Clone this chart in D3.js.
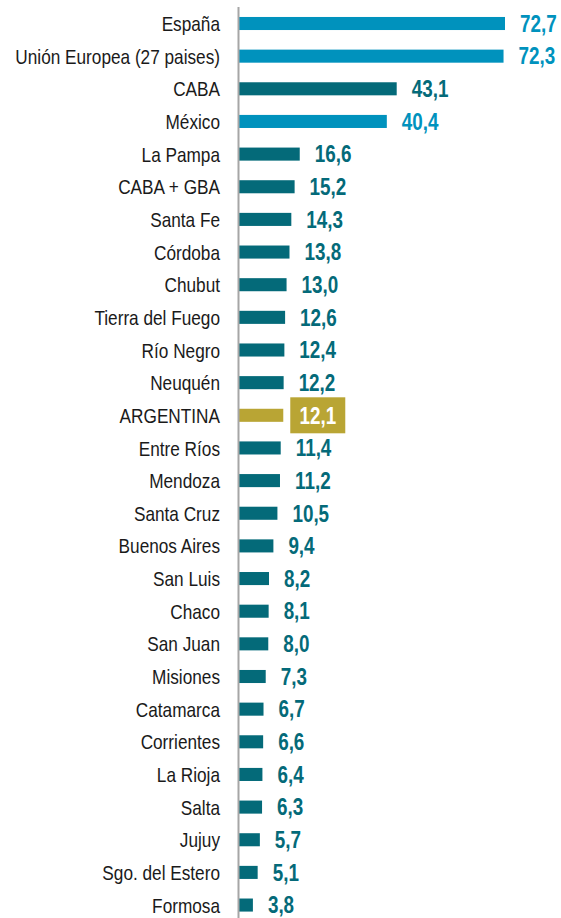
<!DOCTYPE html>
<html>
<head>
<meta charset="utf-8">
<script src="https://cdn.jsdelivr.net/npm/d3@7/dist/d3.min.js"></script>
<style>
  body { margin: 0; background: #fff; }
  .cat { font-family: "Liberation Sans", Arial, sans-serif; font-size: 21px; fill: #1a1a1a; }
  .val { font-family: "Liberation Sans", Arial, sans-serif; font-size: 23px; font-weight: bold; }
</style>
</head>
<body>
<div id="chart"></div>
<script>
const categories = ['España', 'Unión Europea (27 paises)', 'CABA', 'México', 'La Pampa', 'CABA + GBA',
    'Santa Fe', 'Córdoba', 'Chubut', 'Tierra del Fuego', 'Río Negro', 'Neuquén', 'ARGENTINA',
    'Entre Ríos', 'Mendoza', 'Santa Cruz', 'Buenos Aires', 'San Luis', 'Chaco', 'San Juan',
    'Misiones', 'Catamarca', 'Corrientes', 'La Rioja', 'Salta', 'Jujuy', 'Sgo. del Estero', 'Formosa'];
const values = [72.7, 72.3, 43.1, 40.4, 16.6, 15.2, 14.3, 13.8, 13.0, 12.6, 12.4, 12.2, 12.1,
    11.4, 11.2, 10.5, 9.4, 8.2, 8.1, 8.0, 7.3, 6.7, 6.6, 6.4, 6.3, 5.7, 5.1, 3.8];
const intl = ['España', 'Unión Europea (27 paises)', 'México'];
const highlight = 'ARGENTINA';

const width = 561, height = 918;
const x0 = 239;
const step = 32.65;
const squeeze = 0.82; // the source text is horizontally condensed

const colors = { intl: '#0092bd', prov: '#046a79', arg: '#b9a534' };

function groupOf(c) {
    if (c === highlight) return 'arg';
    return intl.indexOf(c) >= 0 ? 'intl' : 'prov';
}

const data = categories.map((c, i) => ({ key: c, value: values[i], group: groupOf(c) }));

const svg = d3.select('#chart').append('svg')
    .attr('width', width)
    .attr('height', height);

const xScale = d3.scaleLinear()
    .domain([0, 72.7])
    .range([x0, 505]);

const yScale = d3.scaleBand()
    .domain(categories)
    .range([23.5 - step / 2, 23.5 - step / 2 + step * categories.length])
    .paddingInner(0.6)
    .paddingOuter(0.3);

const mid = k => yScale(k) + yScale.bandwidth() / 2;

// category labels
svg.append('g').selectAll('text')
    .data(data)
    .enter().append('text')
    .attr('class', 'cat')
    .attr('transform', d => 'translate(220,' + mid(d.key) + ') scale(' + squeeze + ',1)')
    .attr('dy', '0.36em')
    .attr('text-anchor', 'end')
    .text(d => d.key);

// bars
svg.append('g').selectAll('rect')
    .data(data)
    .enter().append('rect')
    .attr('x', xScale(0))
    .attr('y', d => yScale(d.key))
    .attr('width', d => xScale(d.value) - xScale(0))
    .attr('height', yScale.bandwidth())
    .attr('fill', d => colors[d.group]);

const fmt = v => v.toFixed(1).replace('.', ',');

// gold box behind ARGENTINA value
const arg = data.find(d => d.group === 'arg');
svg.append('rect')
    .attr('x', xScale(arg.value) + 7)
    .attr('y', mid(arg.key) - 18)
    .attr('width', 55)
    .attr('height', 36)
    .attr('fill', colors.arg);

// value labels
svg.append('g').selectAll('text')
    .data(data)
    .enter().append('text')
    .attr('class', 'val')
    .attr('transform', d => {
        let tx = d.group === 'arg' ? xScale(d.value) + 34.5 : xScale(d.value) + 15;
        return 'translate(' + tx + ',' + mid(d.key) + ') scale(' + squeeze + ',1)';
    })
    .attr('dy', '0.36em')
    .attr('text-anchor', d => d.group === 'arg' ? 'middle' : 'start')
    .attr('fill', d => d.group === 'arg' ? '#fff' : colors[d.group])
    .text(d => fmt(d.value));

// vertical axis line
svg.append('line')
    .attr('x1', x0 - 0.5).attr('x2', x0 - 0.5)
    .attr('y1', 7).attr('y2', height)
    .attr('stroke', '#a6a6a6')
    .attr('stroke-width', 2);
</script>
</body>
</html>
